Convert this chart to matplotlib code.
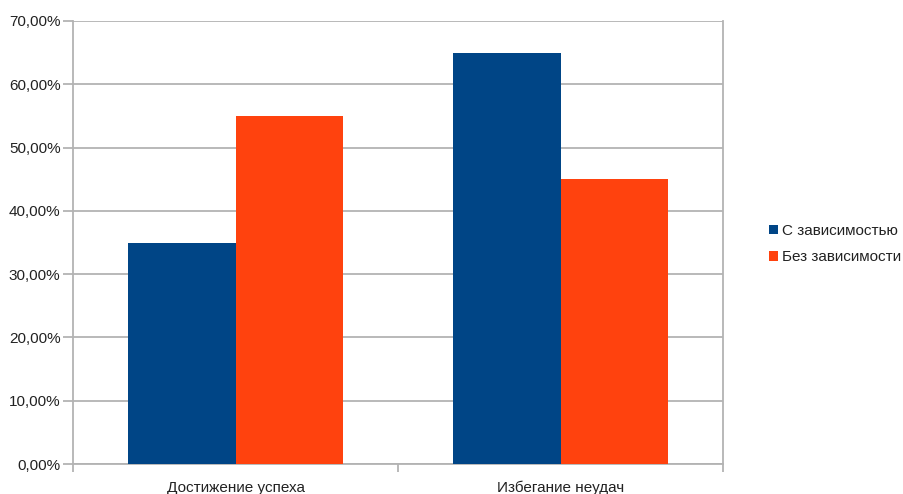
import matplotlib
matplotlib.use("Agg")
import matplotlib.pyplot as plt
from matplotlib.ticker import FuncFormatter, FixedLocator
import numpy as np

plt.rcParams['font.family'] = ['Liberation Sans', 'DejaVu Sans']

categories = ["Достижение успеха", "Избегание неудач"]
series_names = ["С зависимостью", "Без зависимости"]
with_dep = [35.0, 65.0]
without_dep = [55.0, 45.0]
y_ticks = [0, 10, 20, 30, 40, 50, 60, 70]

colors = ["#004586", "#ff420e"]
grid_color = "#b3b3b3"

fig = plt.figure(figsize=(9.04, 4.94), dpi=100)
ax = fig.add_axes([0.0808, 0.0607, 0.7190, 0.8968])

x = np.arange(len(categories))
w = 0.33
ax.bar(x - w / 2, with_dep, width=w, color=colors[0], label=series_names[0], zorder=3)
ax.bar(x + w / 2, without_dep, width=w, color=colors[1], label=series_names[1], zorder=3)

ax.set_xlim(-0.5, len(categories) - 0.5)
ax.set_ylim(0, 70)
ax.set_yticks(y_ticks)
ax.yaxis.set_major_formatter(FuncFormatter(lambda v, p: f"{v:.2f}".replace(".", ",") + "%"))
ax.yaxis.grid(True, color=grid_color, linewidth=1.3, zorder=0)

ax.set_xticks(x)
ax.set_xticklabels(categories)
ax.xaxis.set_minor_locator(FixedLocator(np.arange(-0.5, len(categories), 1.0)))
ax.tick_params(axis='x', which='major', length=0, pad=12, labelsize=11, labelcolor="#222222")
ax.tick_params(axis='x', which='minor', length=6, width=1.3, color=grid_color)
ax.tick_params(axis='y', length=7, width=1.3, color=grid_color, labelsize=11, labelcolor="#222222", pad=2)

for side in ["left", "right", "bottom"]:
    ax.spines[side].set_color(grid_color)
    ax.spines[side].set_linewidth(1.3)
ax.spines["top"].set_visible(False)

leg = fig.legend(loc="center left", bbox_to_anchor=(0.835, 0.506), frameon=False,
                 handlelength=0.6, handleheight=0.6, handletextpad=0.3,
                 fontsize=11, labelspacing=0.8)
for t in leg.get_texts():
    t.set_color("#222222")

fig.savefig("out.png", dpi=100)
